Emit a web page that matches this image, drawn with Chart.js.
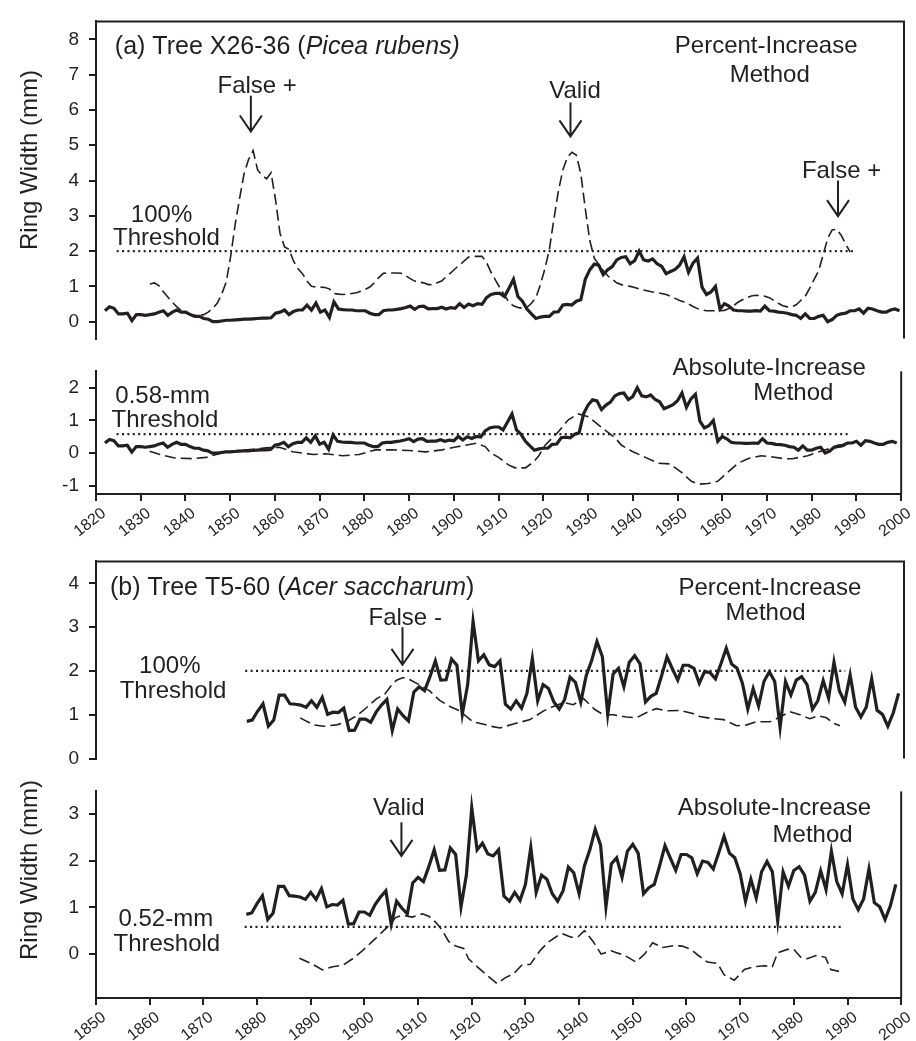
<!DOCTYPE html>
<html>
<head>
<meta charset="utf-8">
<script src="https://cdn.jsdelivr.net/npm/chart.js@4.4.1/dist/chart.umd.min.js"></script>
<style>
  body { margin: 0; background: #fff; }
  #wrap { position: relative; width: 916px; height: 1041px; overflow: hidden; }
  #wrap canvas { position: absolute; left: 0; }
</style>
</head>
<body>
<div id="wrap">
  <canvas id="a1" width="916" height="360" style="top:0px"></canvas>
  <canvas id="a2" width="916" height="210" style="top:350px"></canvas>
  <canvas id="b1" width="916" height="240" style="top:540px"></canvas>
  <canvas id="b2" width="916" height="271" style="top:770px"></canvas>
</div>
<script>
'use strict';

// ---- Data: tree (a) X26-36, Picea rubens ----

const ringAStart = 1822;
const ringA = [
  0.31, 0.42, 0.38, 0.22, 0.22, 0.24, 0.03, 0.20, 0.20, 0.18,   // 1822-1831
  0.20, 0.22, 0.27, 0.31, 0.18, 0.27, 0.33, 0.27, 0.27, 0.20,   // 1832-1841
  0.15, 0.15, 0.09, 0.07, 0.00, 0.00, 0.02, 0.04, 0.04, 0.05,   // 1842-1851
  0.06, 0.07, 0.07, 0.08, 0.09, 0.10, 0.10, 0.11, 0.24, 0.27,   // 1852-1861
  0.33, 0.20, 0.29, 0.33, 0.33, 0.47, 0.33, 0.53, 0.27, 0.33,   // 1862-1871
  0.12, 0.56, 0.36, 0.34, 0.33, 0.33, 0.31, 0.31, 0.31, 0.24,   // 1872-1881
  0.20, 0.20, 0.31, 0.33, 0.33, 0.35, 0.37, 0.40, 0.44, 0.35,   // 1882-1891
  0.43, 0.44, 0.36, 0.37, 0.37, 0.41, 0.36, 0.40, 0.38, 0.51,   // 1892-1901
  0.40, 0.50, 0.45, 0.51, 0.49, 0.68, 0.77, 0.80, 0.80, 0.71,   // 1902-1911
  0.95, 1.20, 0.71, 0.58, 0.36, 0.22, 0.09, 0.13, 0.15, 0.15,   // 1912-1921
  0.27, 0.28, 0.47, 0.49, 0.47, 0.58, 0.62, 1.20, 1.47, 1.63,   // 1922-1931
  1.60, 1.33, 1.47, 1.56, 1.75, 1.82, 1.84, 1.64, 1.73, 2.00,   // 1932-1941
  1.75, 1.72, 1.78, 1.64, 1.57, 1.36, 1.42, 1.48, 1.60, 1.84,   // 1942-1951
  1.40, 1.66, 1.80, 0.98, 0.77, 0.84, 1.00, 0.36, 0.51, 0.44,   // 1952-1961
  0.33, 0.31, 0.31, 0.30, 0.30, 0.31, 0.30, 0.44, 0.31, 0.30,   // 1962-1971
  0.27, 0.26, 0.24, 0.20, 0.18, 0.09, 0.22, 0.09, 0.09, 0.15,   // 1972-1981
  0.18, 0.00, 0.06, 0.18, 0.22, 0.24, 0.31, 0.31, 0.36, 0.24,   // 1982-1991
  0.38, 0.36, 0.31, 0.27, 0.27, 0.33, 0.36, 0.31                // 1992-1999
];

const pctAStart = 1832;
const pctA = [
  1.07, 1.10, 1.02, 0.85, 0.70, 0.55, 0.42, 0.32, 0.25, 0.20,   // 1832-1841
  0.18, 0.18, 0.20, 0.27, 0.38, 0.52, 0.78, 1.12, 1.85, 2.75,   // 1842-1851
  3.50, 4.20, 4.60, 4.85, 4.30, 4.15, 4.05, 4.22, 3.45, 2.50,   // 1852-1861
  2.12, 2.05, 1.72, 1.50, 1.36, 1.15, 1.00, 0.98, 0.98, 0.97,   // 1862-1871
  0.93, 0.80, 0.78, 0.77, 0.78, 0.80, 0.82, 0.86, 0.92, 0.98,   // 1872-1881
  1.10, 1.25, 1.37, 1.38, 1.38, 1.38, 1.37, 1.30, 1.22, 1.15,   // 1882-1891
  1.12, 1.10, 1.05, 1.05, 1.10, 1.15, 1.27, 1.38, 1.50, 1.60,   // 1892-1901
  1.72, 1.83, 1.85, 1.85, 1.85, 1.68, 1.40, 1.18, 0.95, 0.75,   // 1902-1911
  0.55, 0.45, 0.40, 0.38, 0.40, 0.52, 0.68, 1.05, 1.50, 2.05,   // 1912-1921
  2.90, 3.70, 4.30, 4.65, 4.80, 4.72, 4.20, 3.20, 2.30, 1.80,   // 1922-1931
  1.62, 1.45, 1.30, 1.20, 1.10, 1.05, 1.02, 1.00, 0.97, 0.93,   // 1932-1941
  0.90, 0.87, 0.84, 0.82, 0.80, 0.77, 0.72, 0.66, 0.60, 0.56,   // 1942-1951
  0.50, 0.43, 0.37, 0.33, 0.31, 0.31, 0.31, 0.31, 0.32, 0.37,   // 1952-1961
  0.45, 0.55, 0.62, 0.68, 0.73, 0.75, 0.74, 0.72, 0.68, 0.60,   // 1962-1971
  0.52, 0.45, 0.42, 0.42, 0.48, 0.60, 0.72, 0.95, 1.20, 1.45,   // 1972-1981
  1.90, 2.36, 2.60, 2.62, 2.45, 2.20, 1.97                      // 1982-1988
];

const absAYears = [
  1832, 1834.3, 1837.6, 1841.7, 1844.6, 1846.9, 1849, 1852, 1855, 1858,
  1861, 1864, 1868.5, 1871.4, 1875.1, 1878.8, 1882.5, 1886.2, 1890, 1893.7,
  1897.4, 1900.4, 1902.6, 1905, 1907, 1908.2, 1910, 1912.2, 1913.7, 1916,
  1917.8, 1919, 1920.4, 1923.4, 1925.6, 1927.8, 1930.1, 1933, 1936, 1937.5,
  1939.8, 1942.8, 1945.7, 1948.3, 1950.9, 1953.1, 1954.6, 1956.8, 1959, 1961.2,
  1963.5, 1965.7, 1968.7, 1970.9, 1973.9, 1975.7, 1979.1, 1982, 1984.3, 1986.5,
  1988
];
const absA = [
  0.06, -0.04, -0.15, -0.17, -0.13, -0.04, 0.03, 0.08, 0.12, 0.16,
  0.18, 0.04, -0.04, -0.02, -0.08, -0.04, 0.10, 0.10, 0.08, 0.04,
  0.10, 0.19, 0.24, 0.30, 0.20, 0.01, -0.13, -0.36, -0.45, -0.45,
  -0.27, -0.08, 0.24, 0.66, 1.02, 1.20, 1.11, 0.79, 0.47, 0.24,
  0.06, -0.13, -0.31, -0.33, -0.59, -0.86, -0.95, -0.93, -0.86, -0.59,
  -0.31, -0.17, -0.08, -0.11, -0.17, -0.17, -0.08, 0.06, 0.15, 0.19,
  0.24
];

// ---- Data: tree (b) T5-60, Acer saccharum ----

const ringBStart = 1878;
const ringB = [
  0.85, 0.88, 1.08, 1.25, 0.74, 0.88, 1.45, 1.45, 1.25, 1.24,   // 1878-1887
  1.22, 1.17, 1.32, 1.17, 1.40, 1.01, 1.06, 1.05, 1.15, 0.64,   // 1888-1897
  0.65, 0.90, 0.90, 0.83, 1.06, 1.22, 1.35, 0.64, 1.13, 0.98,   // 1898-1907
  0.86, 1.52, 1.64, 1.55, 1.87, 2.23, 1.79, 1.80, 2.27, 2.13,   // 1908-1917
  1.01, 1.69, 3.13, 2.23, 2.37, 2.14, 2.10, 2.23, 1.24, 1.13,   // 1918-1927
  1.32, 1.15, 1.49, 2.28, 1.32, 1.69, 1.60, 1.29, 1.13, 1.35,   // 1928-1937
  1.86, 1.74, 1.29, 1.89, 2.23, 2.67, 2.33, 1.01, 1.93, 2.06,   // 1938-1947
  1.64, 2.20, 2.35, 2.16, 1.29, 1.42, 1.49, 1.89, 2.32, 2.05,   // 1948-1957
  1.79, 2.13, 2.13, 2.06, 1.72, 1.99, 1.96, 1.82, 2.16, 2.52,   // 1958-1967
  2.16, 2.06, 1.72, 1.13, 1.60, 1.20, 1.76, 1.98, 1.76, 0.71,   // 1968-1977
  1.76, 1.45, 1.79, 1.87, 1.69, 1.13, 1.32, 1.78, 1.38, 2.20,   // 1978-1987
  1.55, 1.29, 1.91, 1.18, 0.95, 1.18, 1.82, 1.10, 1.01, 0.74,   // 1988-1997
  1.04, 1.49                                                    // 1998-1999
];

const pctBYears = [
  1887.9, 1890.4, 1892.2, 1894.7, 1896.5, 1898.4, 1900.2, 1902.1, 1903.6, 1904.9,
  1905.8, 1907, 1908.3, 1910.1, 1912, 1913.8, 1915.7, 1917.5, 1920, 1921.8,
  1923.2, 1925, 1927.5, 1930.6, 1933.1, 1934.9, 1936.8, 1938.6, 1940.5, 1942.6,
  1944.2, 1946, 1948.5, 1950.3, 1952.2, 1954, 1955.9, 1958.4, 1960.8, 1962.1,
  1964.6, 1966.5, 1968.9, 1970.8, 1972.6, 1975.1, 1977, 1978.8, 1980.7, 1982.5,
  1984.1, 1985.6, 1986.9, 1988.1
];
const pctB = [
  0.93, 0.77, 0.74, 0.77, 0.84, 0.98, 1.16, 1.37, 1.47, 1.68,
  1.79, 1.85, 1.80, 1.68, 1.54, 1.33, 1.19, 1.09, 0.84, 0.79,
  0.74, 0.70, 0.79, 0.89, 1.09, 1.19, 1.28, 1.23, 1.37, 1.12,
  1.00, 1.00, 0.95, 0.93, 1.05, 1.14, 1.09, 1.10, 1.03, 0.96,
  0.91, 0.89, 0.75, 0.77, 0.84, 0.84, 0.95, 1.07, 1.00, 0.91,
  0.98, 0.93, 0.81, 0.75
];

const absBYears = [
  1887.9, 1890.4, 1892.2, 1894.1, 1896, 1897.8, 1899.6, 1901.5, 1903.3, 1904.6,
  1905.8, 1907, 1908.9, 1910.8, 1912, 1913.3, 1914.5, 1915.7, 1917, 1918.5,
  1919.4, 1920.7, 1922.5, 1924.7, 1926.2, 1927.8, 1929.3, 1930.9, 1932.7, 1934.2,
  1936, 1937, 1938.5, 1939.8, 1941, 1942.6, 1944.1, 1946, 1947.2, 1948.5,
  1950.6, 1952.2, 1953.7, 1955.6, 1957.7, 1959.2, 1960.8, 1962.1, 1963.9, 1965.8,
  1967, 1968.9, 1970.8, 1972.6, 1974.5, 1976, 1977, 1978.8, 1980, 1981.3,
  1982.5, 1984.1, 1985.9, 1986.9, 1988.4
];
const absB = [
  -0.09, -0.22, -0.34, -0.27, -0.24, -0.10, 0.07, 0.27, 0.47, 0.61,
  0.78, 0.83, 0.79, 0.86, 0.81, 0.68, 0.51, 0.27, 0.17, 0.12,
  -0.10, -0.24, -0.42, -0.63, -0.51, -0.42, -0.24, -0.22, 0.07, 0.25,
  0.39, 0.43, 0.36, 0.37, 0.50, 0.27, 0.00, 0.07, 0.02, -0.03,
  -0.17, 0.00, 0.24, 0.14, 0.18, 0.17, 0.10, -0.02, -0.17, -0.20,
  -0.44, -0.56, -0.33, -0.27, -0.25, -0.27, 0.03, 0.10, 0.10, -0.07,
  -0.10, -0.03, -0.07, -0.33, -0.37
];

// ---- Thresholds and ticks ----

const threshASpan = [1824.6, 1988.6];
const threshBSpan = [1877.7, 1989.1];
const pctThreshold = 2.0;
const absThresholdA = 0.58;
const absThresholdB = 0.58;

const yTicksA1 = [0, 1, 2, 3, 4, 5, 6, 7, 8];
const yTicksA2 = [-1, 0, 1, 2];
const yTicksB1 = [0, 1, 2, 3, 4];
const yTicksB2 = [0, 1, 2, 3];
const xTicksA = [1820, 1830, 1840, 1850, 1860, 1870, 1880, 1890, 1900, 1910,
                 1920, 1930, 1940, 1950, 1960, 1970, 1980, 1990, 2000];
const xTicksB = [1850, 1860, 1870, 1880, 1890, 1900, 1910, 1920, 1930, 1940,
                 1950, 1960, 1970, 1980, 1990, 2000];

// ---- Style ----

const INK = '#231f20';
const FAMILY = '"Liberation Sans", Arial, Helvetica, sans-serif';

function series(start, values) { return values.map((v, i) => ({ x: start + i, y: v })); }
function pairs(xs, ys) { return xs.map((x, i) => ({ x, y: ys[i] })); }

const solid  = data => ({ data, borderColor: INK, borderWidth: 3.2, pointRadius: 0, tension: 0 });
const dashed = data => ({ data, borderColor: INK, borderWidth: 1.6, borderDash: [11, 5], pointRadius: 0, tension: 0 });
const dotted = (span, v) => ({
  data: span.map(x => ({ x, y: v })),
  borderColor: INK, borderWidth: 2.2, borderDash: [2, 3.4], pointRadius: 0,
});

const axisLine = { display: true, color: INK, width: 2 };
const tickMarks = { drawOnChartArea: false, drawTicks: true, tickLength: 7, color: INK, lineWidth: 2 };

function yScale(min, max, tickVals) {
  return {
    type: 'linear', min, max,
    afterBuildTicks: s => { s.ticks = tickVals.map(v => ({ value: v })); },
    afterFit: s => { s.width = 96; },
    grid: tickMarks,
    border: axisLine,
    ticks: { color: INK, padding: 10, font: { family: FAMILY, size: 19 }, callback: v => String(v) },
  };
}

function xScale(min, max, tickVals, height) {
  if (!tickVals) return { type: 'linear', min, max, display: false };
  return {
    type: 'linear', min, max,
    afterBuildTicks: s => { s.ticks = tickVals.map(v => ({ value: v })); },
    afterFit: s => { s.height = height; },
    grid: tickMarks,
    border: axisLine,
    ticks: {
      color: INK, padding: 3, labelOffset: 8, minRotation: 38, maxRotation: 38, autoSkip: false,
      font: { family: FAMILY, size: 16 }, callback: v => String(v),
    },
  };
}

// ---- Notes plugin: frame sides, labels, arrows ----

const notesPlugin = {
  id: 'notes',
  afterDatasetsDraw(chart, args, opts) {
    const { ctx, chartArea: a } = chart;
    const xs = chart.scales.x, ys = chart.scales.y;
    ctx.save();
    ctx.strokeStyle = INK;
    ctx.lineWidth = 2;
    ctx.beginPath();
    if (opts.top) { ctx.moveTo(a.left - 1, a.top); ctx.lineTo(a.right + 1, a.top); }
    if (opts.right) { ctx.moveTo(a.right, a.top); ctx.lineTo(a.right, a.bottom); }
    ctx.stroke();

    ctx.fillStyle = INK;
    ctx.textBaseline = 'middle';
    for (const t of opts.texts || []) {
      const px = xs.getPixelForValue(t.x), py = ys.getPixelForValue(t.y);
      const size = t.size || 24;
      const fontOf = it => `${it ? 'italic ' : ''}${size}px ${FAMILY}`;
      let total = 0;
      for (const [s, it] of t.parts) { ctx.font = fontOf(it); total += ctx.measureText(s).width; }
      let cx = t.align === 'left' ? px : px - total / 2;
      ctx.textAlign = 'left';
      for (const [s, it] of t.parts) {
        ctx.font = fontOf(it);
        ctx.fillText(s, cx, py);
        cx += ctx.measureText(s).width;
      }
    }

    ctx.lineWidth = 2;
    for (const ar of opts.arrows || []) {
      const px = xs.getPixelForValue(ar.x);
      const y1 = ys.getPixelForValue(ar.y1), y2 = ys.getPixelForValue(ar.y2);
      ctx.beginPath();
      ctx.moveTo(px, y1); ctx.lineTo(px, y2);
      ctx.moveTo(px - 11, y2 - 16); ctx.lineTo(px, y2); ctx.lineTo(px + 11, y2 - 16);
      ctx.stroke();
    }

    if (opts.yTitle) {
      ctx.save();
      ctx.translate(opts.yTitle.px, opts.yTitle.py);
      ctx.rotate(-Math.PI / 2);
      ctx.textAlign = 'center';
      ctx.font = `24px ${FAMILY}`;
      ctx.fillText('Ring Width (mm)', 0, 0);
      ctx.restore();
    }
    ctx.restore();
  },
};

function makeChart(id, datasets, scales, padding, notes) {
  return new Chart(document.getElementById(id), {
    type: 'line',
    data: { datasets },
    options: {
      responsive: false,
      animation: false,
      events: [],
      parsing: false,
      layout: { padding, autoPadding: false },
      scales,
      plugins: { legend: { display: false }, tooltip: { enabled: false }, notes },
    },
    plugins: [notesPlugin],
  });
}

// ---- Panel (a) ----

makeChart('a1',
  [solid(series(ringAStart, ringA)), dashed(series(pctAStart, pctA)), dotted(threshASpan, pctThreshold)],
  { x: xScale(1820, 2000), y: yScale(-0.48, 8.51, yTicksA1) },
  { top: 6, right: 12, bottom: 17, left: 0 },
  {
    top: true, right: true,
    yTitle: { px: 30, py: 160 },
    texts: [
      { x: 1824.2, y: 7.79, align: 'left', size: 25, parts: [['(a) Tree X26-36 (', false], ['Picea rubens)', true]] },
      { x: 1969.3, y: 7.79, parts: [['Percent-Increase', false]] },
      { x: 1970.1, y: 6.99, parts: [['Method', false]] },
      { x: 1855.9, y: 6.67, parts: [['False +', false]] },
      { x: 1926.7, y: 6.53, parts: [['Valid', false]] },
      { x: 1986.1, y: 4.27, parts: [['False +', false]] },
      { x: 1834.6, y: 3.01, parts: [['100%', false]] },
      { x: 1835.7, y: 2.35, parts: [['Threshold', false]] },
    ],
    arrows: [
      { x: 1854.5, y1: 6.40, y2: 5.39 },
      { x: 1925.7, y1: 6.21, y2: 5.25 },
      { x: 1985.3, y1: 4.00, y2: 2.99 },
    ],
  });

makeChart('a2',
  [solid(series(ringAStart, ringA)), dashed(pairs(absAYears, absA)), dotted(threshASpan, absThresholdA)],
  { x: xScale(1820, 2000, xTicksA, 66), y: yScale(-1.25, 2.5, yTicksA2) },
  { top: 8, right: 12, bottom: 0, left: 0 },
  {
    right: true,
    texts: [
      { x: 1834.9, y: 1.75, parts: [['0.58-mm', false]] },
      { x: 1835.4, y: 1.01, parts: [['Threshold', false]] },
      { x: 1970.5, y: 2.58, parts: [['Absolute-Increase', false]] },
      { x: 1975.9, y: 1.84, parts: [['Method', false]] },
    ],
  });

// ---- Panel (b) ----

makeChart('b1',
  [solid(series(ringBStart, ringB)), dashed(pairs(pctBYears, pctB)), dotted(threshBSpan, pctThreshold)],
  { x: xScale(1850, 2000), y: yScale(0, 4.5, yTicksB1) },
  { top: 11, right: 12, bottom: 15, left: 0 },
  {
    top: true, right: true,
    texts: [
      { x: 1852.6, y: 3.89, align: 'left', size: 25, parts: [['(b) Tree T5-60 (', false], ['Acer saccharum', true], [')', false]] },
      { x: 1975.1, y: 3.89, parts: [['Percent-Increase', false]] },
      { x: 1974.3, y: 3.31, parts: [['Method', false]] },
      { x: 1907.4, y: 3.21, parts: [['False -', false]] },
      { x: 1863.7, y: 2.11, parts: [['100%', false]] },
      { x: 1864.3, y: 1.54, parts: [['Threshold', false]] },
    ],
    arrows: [{ x: 1906.9, y1: 3.0, y2: 2.14 }],
  });

makeChart('b2',
  [solid(series(ringBStart, ringB)), dashed(pairs(absBYears, absB)), dotted(threshBSpan, absThresholdB)],
  { x: xScale(1850, 2000, xTicksB, 43), y: yScale(-0.94, 3.48, yTicksB2) },
  { top: 10, right: 12, bottom: 0, left: 0 },
  {
    right: true,
    yTitle: { px: 30, py: 100 },
    texts: [
      { x: 1906.4, y: 3.12, parts: [['Valid', false]] },
      { x: 1976.4, y: 3.12, parts: [['Absolute-Increase', false]] },
      { x: 1983.5, y: 2.54, parts: [['Method', false]] },
      { x: 1863.0, y: 0.74, parts: [['0.52-mm', false]] },
      { x: 1863.2, y: 0.20, parts: [['Threshold', false]] },
    ],
    arrows: [{ x: 1906.9, y1: 2.82, y2: 2.1 }],
  });
</script>
</body>
</html>
